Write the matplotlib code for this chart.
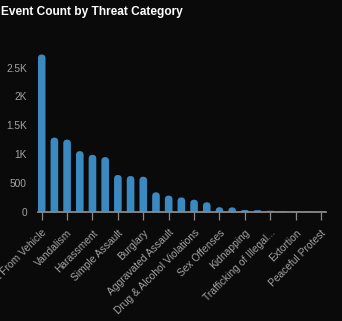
import matplotlib
matplotlib.use("Agg")
import matplotlib.pyplot as plt
from matplotlib.patches import FancyBboxPatch
import numpy as np

categories = [
    "Theft From Vehicle", "Larceny", "Vandalism", "Fraud", "Harassment",
    "Robbery", "Simple Assault", "Motor Vehicle Theft", "Burglary",
    "Trespassing", "Aggravated Assault", "Weapons Violations",
    "Drug & Alcohol Violations", "Disorderly Conduct", "Sex Offenses",
    "Arson", "Kidnapping", "Homicide", "Trafficking of Illegal...",
    "Bribery", "Extortion", "Civil Unrest", "Peaceful Protest",
]
counts = [2730, 1285, 1250, 1050, 986, 946, 635, 617, 605, 334, 277, 245,
          205, 160, 75, 72, 25, 22, 12, 8, 5, 3, 2]
ytick_values = [0, 500, 1000, 1500, 2000, 2500]
ytick_labels = ["0", "500", "1K", "1.5K", "2K", "2.5K"]

BG = "#0a0a0a"
BAR = "#3a89c1"
TXT = "#a3a3a3"
AXC = "#8a8a8a"

W, H = 342, 321
fig = plt.figure(figsize=(W / 100, H / 100), dpi=100, facecolor=BG)
ax = fig.add_axes([38 / W, 1 - 211.5 / H, 288 / W, 161 / H], facecolor=BG)

x = np.arange(len(categories))
ax.set_xlim(-0.29, len(categories) - 1 + 0.39)
ax.set_ylim(0, 2800)

bw = 0.6
bars = ax.bar(x, counts, width=bw, color=BAR)
fig.canvas.draw()
# pixels per data unit
p0 = ax.transData.transform((0, 0))
p1 = ax.transData.transform((1, 1))
px_x = p1[0] - p0[0]
px_y = p1[1] - p0[1]
r = bw / 2
aspect = px_x / px_y  # y data per x data for circular corners
for b in bars:
    bx, bwid, bh = b.get_x(), b.get_width(), b.get_height()
    b.remove()
    rs = min(r, bh / aspect) if bh > 0 else 0.0001
    patch = FancyBboxPatch((bx, -bh), bwid, 2 * bh,
                           boxstyle=f"round,pad=0,rounding_size={rs}",
                           mutation_aspect=aspect, facecolor=BAR,
                           edgecolor="none", zorder=2, clip_on=True)
    ax.add_patch(patch)

for s in ["top", "right", "left"]:
    ax.spines[s].set_visible(False)
ax.spines["bottom"].set_color(AXC)
ax.spines["bottom"].set_linewidth(1.3)
ax.spines["bottom"].set_zorder(3)

font = "Liberation Sans"
ax.set_yticks(ytick_values)
ax.set_yticklabels(ytick_labels, fontsize=7.3, color=TXT, family=font)
ax.tick_params(axis="y", length=0, pad=8)

ax.set_xticks(x[::2])
ax.set_xticklabels(categories[::2], rotation=45, ha="right", va="top",
                   rotation_mode="anchor", fontsize=7.4, color=TXT,
                   family=font)
ax.tick_params(axis="x", length=5.7, width=0.9, color=AXC, pad=6)

fig.text(1 / W, 1 - 15 / H, "Event Count by Threat Category", color="white",
         fontsize=8.6, fontweight="bold", family=font, ha="left",
         va="baseline")

fig.savefig("out.png", dpi=100, facecolor=BG)
